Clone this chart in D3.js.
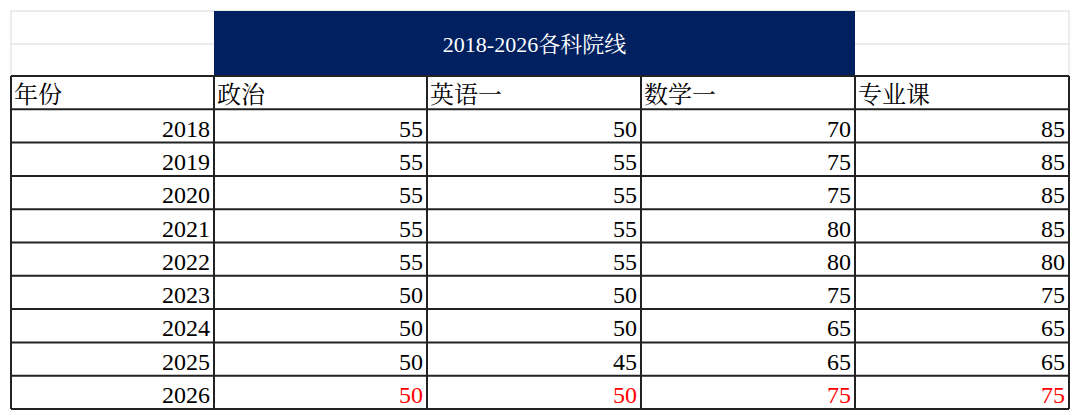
<!DOCTYPE html>
<html><head><meta charset="utf-8">
<script src="https://cdn.jsdelivr.net/npm/d3@7"></script>
<style>body{margin:0;background:#fff;}</style>
</head><body>
<svg id="t" width="1080" height="419"></svg>
<script>
const title		= '2018-2026各科院线';
const headers	= ['年份', '政治', '英语一', '数学一', '专业课'];
const years		= [2018, 2019, 2020, 2021, 2022, 2023, 2024, 2025, 2026];
const politics	= [55, 55, 55, 55, 55, 50, 50, 50, 50];
const english	= [50, 55, 55, 55, 55, 50, 50, 45, 50];
const math		= [70, 75, 75, 80, 80, 75, 65, 65, 75];
const major		= [85, 85, 85, 85, 80, 75, 65, 65, 75];

const colEdges	= [11, 214, 427, 641, 855, 1069];
const x			= d3.scaleBand().domain(d3.range(5)).range([11, 1069]);
const colX		= (i) => colEdges[i];
const colW		= (i) => colEdges[i + 1] - colEdges[i];
const y			= d3.scaleLinear().domain([0, 10]).range([76, 409]);

const rows = years.map((yr, i) => [yr, politics[i], english[i], math[i], major[i]]);
const svg = d3.select('#t');
const serif = "'Liberation Serif','DejaVu Serif','Noto Serif CJK SC','Noto Sans CJK SC',serif";

// faint spreadsheet grid above table
[11, 44, 76].forEach((yy) => {
	svg.append('line').attr('x1', 11).attr('x2', 1069).attr('y1', yy).attr('y2', yy)
		.attr('stroke', '#e6e6e6').attr('stroke-width', 1.5);
});
svg.append('line').attr('x1', 11).attr('x2', 11).attr('y1', 11).attr('y2', 76).attr('stroke', '#e6e6e6').attr('stroke-width', 1.5);
svg.append('line').attr('x1', 1069).attr('x2', 1069).attr('y1', 11).attr('y2', 76).attr('stroke', '#e6e6e6').attr('stroke-width', 1.5);

svg.append('rect').attr('x', colX(1)).attr('y', 11).attr('width', colEdges[4] - colX(1)).attr('height', 65).attr('fill', '#002060');
svg.append('text').attr('x', (colX(1) + colEdges[4]) / 2).attr('y', 52).attr('text-anchor', 'middle')
	.attr('fill', '#fff').attr('font-size', 22).attr('font-family', serif).text(title);

// header
headers.forEach((h, i) => {
	svg.append('text').attr('x', colX(i) + 3).attr('y', y(1) - 6).attr('font-size', 24)
		.attr('font-family', serif).attr('fill', '#000').text(h);
});

rows.forEach((r, ri) => {
	r.forEach((v, ci) => {
		svg.append('text').attr('x', colX(ci) + colW(ci) - 4).attr('y', y(ri + 2) - 6)
			.attr('text-anchor', 'end').attr('font-size', 24).attr('font-family', serif)
			.attr('fill', (ri == rows.length - 1 && ci > 0) ? '#ff0000' : '#000').text(v);
	});
});

// grid lines
d3.range(1, 11).forEach((k) => {
	svg.append('line').attr('x1', 11).attr('x2', 1069).attr('y1', y(k)).attr('y2', y(k))
		.attr('stroke', '#222').attr('stroke-width', 2);
});
svg.append('line').attr('x1', 11).attr('x2', 1069).attr('y1', y(0)).attr('y2', y(0)).attr('stroke', '#222').attr('stroke-width', 2);
colEdges.forEach((cx) => {
	svg.append('line').attr('x1', cx).attr('x2', cx).attr('y1', y(0)).attr('y2', y(10))
		.attr('stroke', '#222').attr('stroke-width', 2);
});
</script>
</body></html>
